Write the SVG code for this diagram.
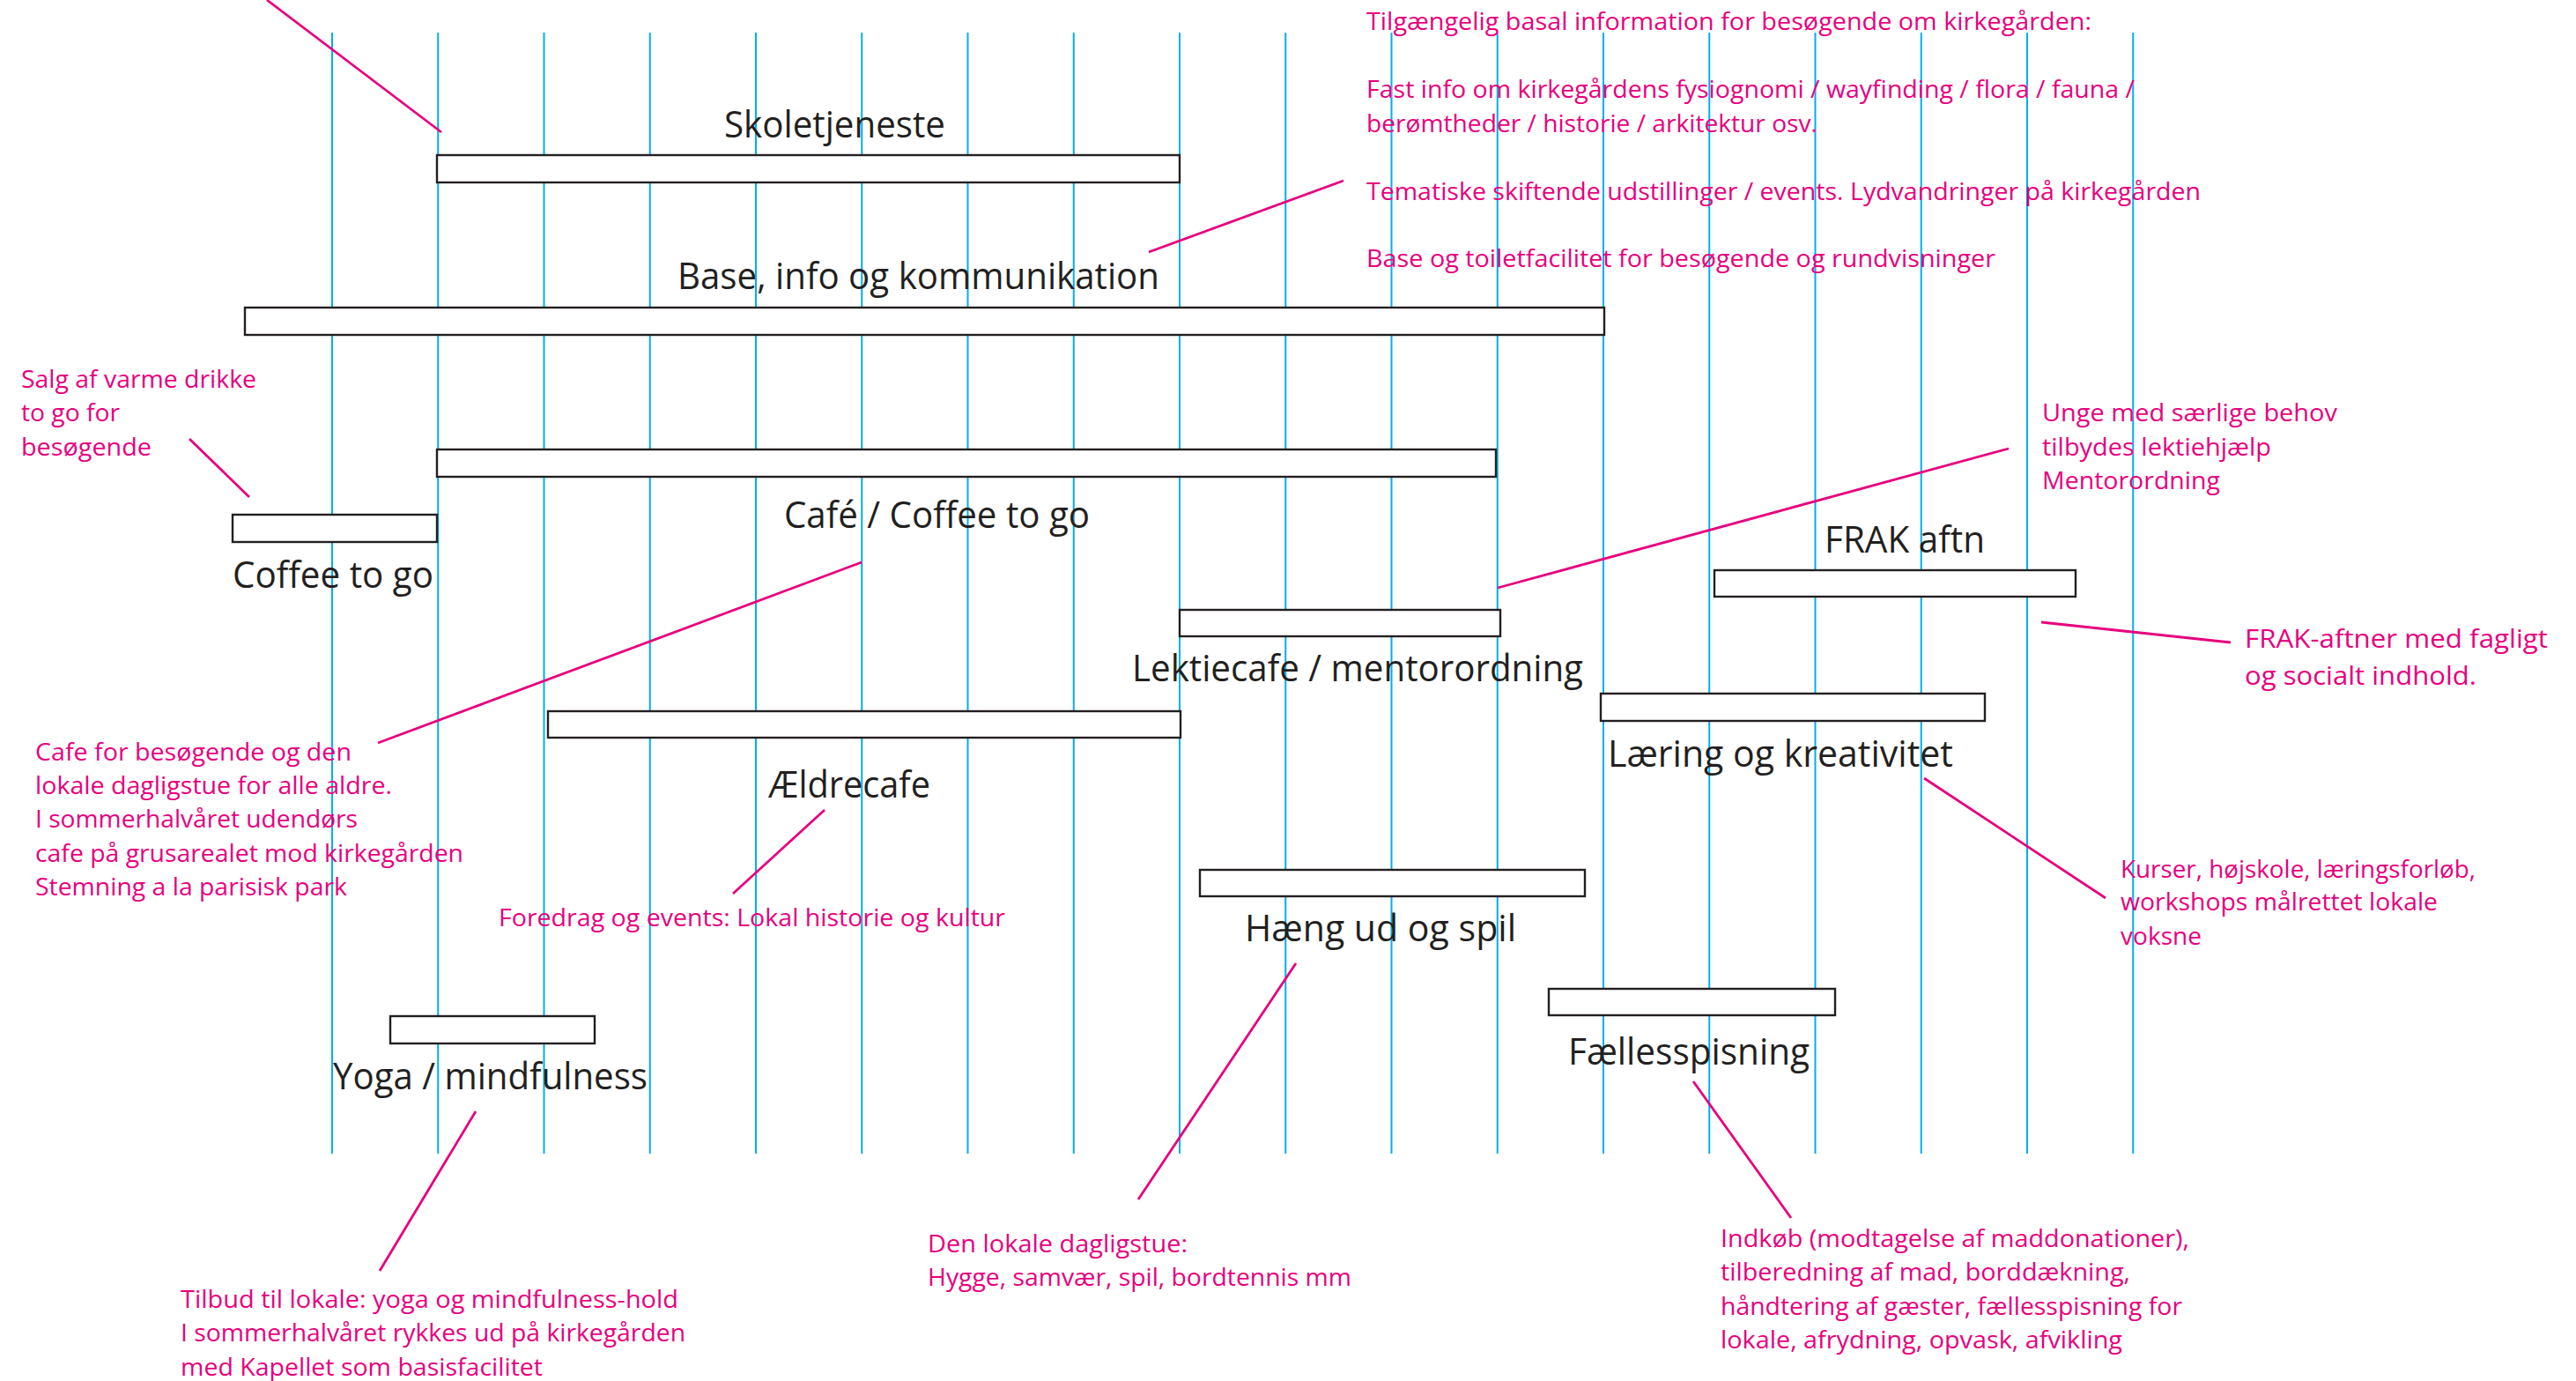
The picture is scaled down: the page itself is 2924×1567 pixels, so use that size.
<svg xmlns="http://www.w3.org/2000/svg" width="2924" height="1567" viewBox="0 0 2924 1567">
<style>
.grid line{stroke:#00aeef;stroke-width:2}
.conn line{stroke:#e6007e;stroke-width:2.8;stroke-linecap:butt}
.bar{fill:#fff;stroke:#231f20;stroke-width:2.4}
.title{font-family:"Open Sans","Noto Sans",sans-serif;font-size:42px;fill:#231f20}
.note{font-family:"Open Sans","Noto Sans",sans-serif;font-size:27px;fill:#e6007e}
.note.big{font-size:30px}
</style>
<rect width="2924" height="1567" fill="#fff"/>
<g id="grid" class="grid">
<line x1="377" y1="37" x2="377" y2="1309"/>
<line x1="497.25" y1="37" x2="497.25" y2="1309"/>
<line x1="617.5" y1="37" x2="617.5" y2="1309"/>
<line x1="737.75" y1="37" x2="737.75" y2="1309"/>
<line x1="858" y1="37" x2="858" y2="1309"/>
<line x1="978.25" y1="37" x2="978.25" y2="1309"/>
<line x1="1098.5" y1="37" x2="1098.5" y2="1309"/>
<line x1="1218.75" y1="37" x2="1218.75" y2="1309"/>
<line x1="1339" y1="37" x2="1339" y2="1309"/>
<line x1="1459.25" y1="37" x2="1459.25" y2="1309"/>
<line x1="1579.5" y1="37" x2="1579.5" y2="1309"/>
<line x1="1699.75" y1="37" x2="1699.75" y2="1309"/>
<line x1="1820" y1="37" x2="1820" y2="1309"/>
<line x1="1940.25" y1="37" x2="1940.25" y2="1309"/>
<line x1="2060.5" y1="37" x2="2060.5" y2="1309"/>
<line x1="2180.75" y1="37" x2="2180.75" y2="1309"/>
<line x1="2301" y1="37" x2="2301" y2="1309"/>
<line x1="2421.25" y1="37" x2="2421.25" y2="1309"/>
</g>
<g id="connectors" class="conn">
<line x1="303" y1="0" x2="501" y2="150"/>
<line x1="1304" y1="286" x2="1525" y2="205"/>
<line x1="215" y1="498" x2="283" y2="564"/>
<line x1="978" y1="638" x2="429" y2="843"/>
<line x1="1700" y1="667" x2="2280" y2="509"/>
<line x1="2317" y1="706" x2="2532" y2="729"/>
<line x1="936" y1="919" x2="832" y2="1014"/>
<line x1="2184" y1="883" x2="2390" y2="1019"/>
<line x1="1471" y1="1093" x2="1292" y2="1361"/>
<line x1="540" y1="1261" x2="431" y2="1442"/>
<line x1="1922" y1="1227" x2="2033" y2="1382"/>
</g>
<g id="node-skoletjeneste">
<rect class="bar" x="496" y="176" width="843" height="31"/>
<text class="title" x="822" y="156" textLength="251" lengthAdjust="spacingAndGlyphs">Skoletjeneste</text>
</g>
<g id="node-base">
<rect class="bar" x="278" y="349" width="1543" height="31"/>
<text class="title" x="769" y="328" textLength="547" lengthAdjust="spacingAndGlyphs">Base, info og kommunikation</text>
</g>
<g id="node-cafe">
<rect class="bar" x="496" y="510" width="1202" height="31"/>
<text class="title" x="890" y="599" textLength="347" lengthAdjust="spacingAndGlyphs">Café / Coffee to go</text>
</g>
<g id="node-coffee">
<rect class="bar" x="264" y="584" width="232" height="31"/>
<text class="title" x="264" y="667" textLength="228" lengthAdjust="spacingAndGlyphs">Coffee to go</text>
</g>
<g id="node-lektiecafe">
<rect class="bar" x="1339" y="692" width="364" height="30"/>
<text class="title" x="1285" y="773" textLength="512" lengthAdjust="spacingAndGlyphs">Lektiecafe / mentorordning</text>
</g>
<g id="node-frak">
<rect class="bar" x="1946" y="647" width="410" height="30"/>
<text class="title" x="2071" y="627" textLength="182" lengthAdjust="spacingAndGlyphs">FRAK aftn</text>
</g>
<g id="node-laering">
<rect class="bar" x="1817" y="787" width="436" height="31"/>
<text class="title" x="1825" y="870" textLength="392" lengthAdjust="spacingAndGlyphs">Læring og kreativitet</text>
</g>
<g id="node-aeldrecafe">
<rect class="bar" x="622" y="807" width="718" height="30"/>
<text class="title" x="872" y="905" textLength="184" lengthAdjust="spacingAndGlyphs">Ældrecafe</text>
</g>
<g id="node-haeng">
<rect class="bar" x="1362" y="987" width="437" height="30"/>
<text class="title" x="1413" y="1068" textLength="308" lengthAdjust="spacingAndGlyphs">Hæng ud og spil</text>
</g>
<g id="node-faelles">
<rect class="bar" x="1758" y="1122" width="325" height="30"/>
<text class="title" x="1780" y="1208" textLength="274" lengthAdjust="spacingAndGlyphs">Fællesspisning</text>
</g>
<g id="node-yoga">
<rect class="bar" x="443" y="1153" width="232" height="31"/>
<text class="title" x="378" y="1236" textLength="357" lengthAdjust="spacingAndGlyphs">Yoga / mindfulness</text>
</g>
<g id="note-base" class="note">
<text x="1551" y="34" textLength="823" lengthAdjust="spacingAndGlyphs">Tilgængelig basal information for besøgende om kirkegården:</text>
<text x="1551" y="111" textLength="872" lengthAdjust="spacingAndGlyphs">Fast info om kirkegårdens fysiognomi / wayfinding / flora / fauna /</text>
<text x="1551" y="150" textLength="512" lengthAdjust="spacingAndGlyphs">berømtheder / historie / arkitektur osv.</text>
<text x="1551" y="227" textLength="947" lengthAdjust="spacingAndGlyphs">Tematiske skiftende udstillinger / events. Lydvandringer på kirkegården</text>
<text x="1551" y="303" textLength="714" lengthAdjust="spacingAndGlyphs">Base og toiletfacilitet for besøgende og rundvisninger</text>
</g>
<g id="note-coffee" class="note">
<text x="24" y="440" textLength="267" lengthAdjust="spacingAndGlyphs">Salg af varme drikke</text>
<text x="24" y="478" textLength="112" lengthAdjust="spacingAndGlyphs">to go for</text>
<text x="24" y="517" textLength="148" lengthAdjust="spacingAndGlyphs">besøgende</text>
</g>
<g id="note-cafe" class="note">
<text x="40" y="863" textLength="359" lengthAdjust="spacingAndGlyphs">Cafe for besøgende og den</text>
<text x="40" y="901" textLength="405" lengthAdjust="spacingAndGlyphs">lokale dagligstue for alle aldre.</text>
<text x="40" y="939" textLength="366" lengthAdjust="spacingAndGlyphs">I sommerhalvåret udendørs</text>
<text x="40" y="978" textLength="486" lengthAdjust="spacingAndGlyphs">cafe på grusarealet mod kirkegården</text>
<text x="40" y="1016" textLength="354" lengthAdjust="spacingAndGlyphs">Stemning a la parisisk park</text>
</g>
<g id="note-aeldre" class="note">
<text x="566" y="1051" textLength="575" lengthAdjust="spacingAndGlyphs">Foredrag og events: Lokal historie og kultur</text>
</g>
<g id="note-lektie" class="note">
<text x="2318" y="478" textLength="335" lengthAdjust="spacingAndGlyphs">Unge med særlige behov</text>
<text x="2318" y="517" textLength="260" lengthAdjust="spacingAndGlyphs">tilbydes lektiehjælp</text>
<text x="2318" y="555" textLength="202" lengthAdjust="spacingAndGlyphs">Mentorordning</text>
</g>
<g id="note-frak" class="note big">
<text x="2548" y="735" textLength="344" lengthAdjust="spacingAndGlyphs">FRAK-aftner med fagligt</text>
<text x="2548" y="777" textLength="263" lengthAdjust="spacingAndGlyphs">og socialt indhold.</text>
</g>
<g id="note-laering" class="note">
<text x="2407" y="996" textLength="403" lengthAdjust="spacingAndGlyphs">Kurser, højskole, læringsforløb,</text>
<text x="2407" y="1033" textLength="360" lengthAdjust="spacingAndGlyphs">workshops målrettet lokale</text>
<text x="2407" y="1072" textLength="92" lengthAdjust="spacingAndGlyphs">voksne</text>
</g>
<g id="note-yoga" class="note">
<text x="205" y="1484" textLength="565" lengthAdjust="spacingAndGlyphs">Tilbud til lokale: yoga og mindfulness-hold</text>
<text x="205" y="1522" textLength="573" lengthAdjust="spacingAndGlyphs">I sommerhalvåret rykkes ud på kirkegården</text>
<text x="205" y="1561" textLength="411" lengthAdjust="spacingAndGlyphs">med Kapellet som basisfacilitet</text>
</g>
<g id="note-haeng" class="note">
<text x="1053" y="1421" textLength="295" lengthAdjust="spacingAndGlyphs">Den lokale dagligstue:</text>
<text x="1053" y="1459" textLength="481" lengthAdjust="spacingAndGlyphs">Hygge, samvær, spil, bordtennis mm</text>
</g>
<g id="note-faelles" class="note">
<text x="1953" y="1415" textLength="532" lengthAdjust="spacingAndGlyphs">Indkøb (modtagelse af maddonationer),</text>
<text x="1953" y="1453" textLength="465" lengthAdjust="spacingAndGlyphs">tilberedning af mad, borddækning,</text>
<text x="1953" y="1492" textLength="524" lengthAdjust="spacingAndGlyphs">håndtering af gæster, fællesspisning for</text>
<text x="1953" y="1530" textLength="456" lengthAdjust="spacingAndGlyphs">lokale, afrydning, opvask, afvikling</text>
</g>
</svg>
